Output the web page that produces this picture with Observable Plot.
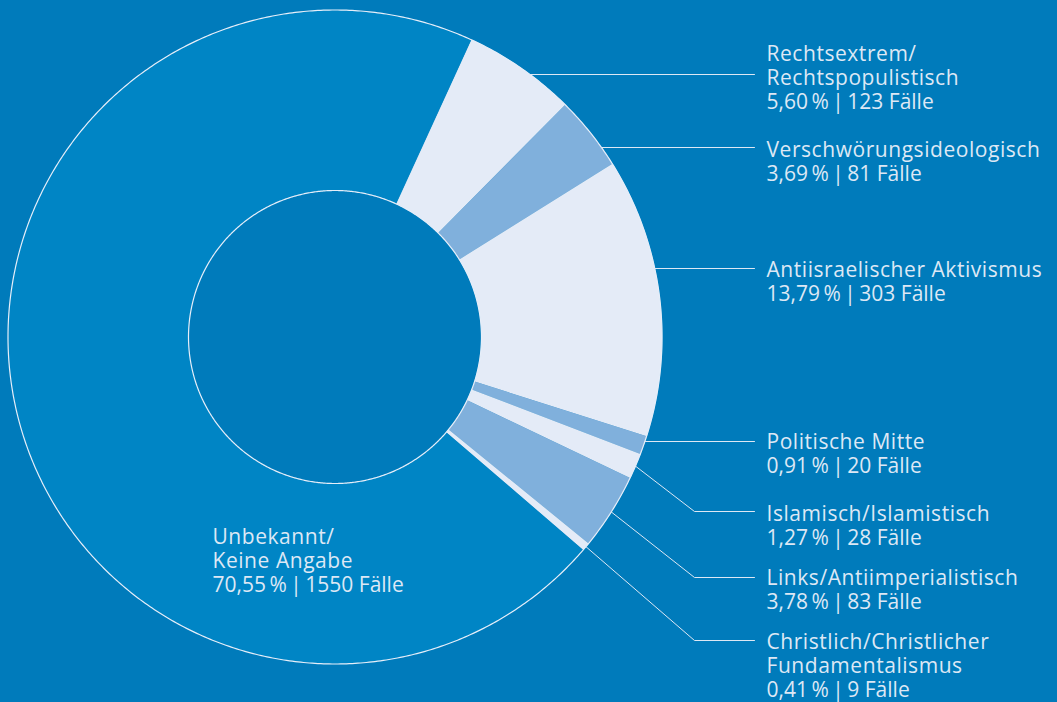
<!DOCTYPE html>
<html><head><meta charset="utf-8">
<script src="https://cdn.jsdelivr.net/npm/d3@7"></script>
<script src="https://cdn.jsdelivr.net/npm/@observablehq/plot@0.6"></script>
<style>
html,body{margin:0;padding:0;background:#007bbb;overflow:hidden;}
#chart{width:1057px;height:702px;}
</style></head><body><div id="chart"></div>
<script>
// ---- data ----
const categories = ["Rechtsextrem/\nRechtspopulistisch", "Verschwörungsideologisch", "Antiisraelischer Aktivismus", "Politische Mitte", "Islamisch/Islamistisch", "Links/Antiimperialistisch", "Christlich/Christlicher\nFundamentalismus", "Unbekannt/\nKeine Angabe"];
const cases = [123, 81, 303, 20, 28, 83, 9, 1550];
const percents = ["5,60", "3,69", "13,79", "0,91", "1,27", "3,78", "0,41", "70,55"];
const shades = ["light", "medium", "light", "medium", "light", "medium", "light", "base"];

// ---- layout / style ----
const palette = {light: "#e4ebf7", medium: "#80b0dc", base: "#0085c5"};
const bg = "#007bbb", ink = "#dde8f5";
const cx = 334.5, cy = 336.5, R = 327, r0 = 146.5, startDeg = 24.6;
const labelX = [766, 766, 766, 766, 766, 766, 766, 212];
const labelBase = [60, 156, 276, 448, 520, 584, 648, 543];   // baseline of first text line
const leaderY = [74, 147, 268, 441, 511, 577, 640, null];
const leaderBend = [false, false, false, false, true, true, true, false];
const elbowX = 694, leaderEndX = 754, lineStep = 24, fontSize = 21;

// ---- geometry from data ----
const arcs = d3.pie().sort(null).value(d => d)
  .startAngle(startDeg * Math.PI / 180).endAngle(startDeg * Math.PI / 180 + 2 * Math.PI)(cases);
const pt = (a, r) => [cx + r * Math.sin(a), cy - r * Math.cos(a)];

const slicePts = [];
arcs.forEach((a, i) => {
  const n = Math.max(4, Math.ceil((a.endAngle - a.startAngle) * 120));
  for (let k = 0; k <= n; k++) {
    const t = a.startAngle + (a.endAngle - a.startAngle) * k / n;
    const [x, y] = pt(t, R); slicePts.push({i, x, y, fill: palette[shades[i]]});
  }
  for (let k = n; k >= 0; k--) {
    const t = a.startAngle + (a.endAngle - a.startAngle) * k / n;
    const [x, y] = pt(t, r0); slicePts.push({i, x, y, fill: palette[shades[i]]});
  }
});
const ringPts = [];
for (const [ring, r] of [["outer", R], ["inner", r0]]) {
  for (let k = 0; k <= 720; k++) {
    const [x, y] = pt(k / 720 * 2 * Math.PI, r); ringPts.push({ring, x, y});
  }
}
const leaderPts = [];
arcs.forEach((a, i) => {
  if (leaderY[i] == null) return;
  const y0 = leaderY[i];
  if (leaderBend[i]) {
    const [sx, sy] = pt((a.startAngle + a.endAngle) / 2, R);
    leaderPts.push({i, x: sx, y: sy}, {i, x: elbowX, y: y0}, {i, x: leaderEndX, y: y0});
  } else {
    const sx = cx + Math.sqrt(R * R - (y0 - cy) ** 2);
    leaderPts.push({i, x: sx, y: y0}, {i, x: leaderEndX, y: y0});
  }
});
const nameRows = [], statRows = [];
categories.forEach((c, i) => {
  const lines = c.split("\n");
  lines.forEach((t, k) => nameRows.push({x: labelX[i], y: labelBase[i] + k * lineStep, t}));
  statRows.push({x: labelX[i], y: labelBase[i] + lines.length * lineStep,
    t: `${percents[i]}\u2009%\u2009|\u2009${cases[i]} Fälle`});
});

const chart = Plot.plot({
  width: 1057, height: 702, margin: 0,
  x: {domain: [0, 1057], range: [0, 1057], axis: null},
  y: {domain: [0, 702], range: [0, 702], axis: null},
  color: {type: "identity"},
  style: {background: bg, fontFamily: "'Open Sans', sans-serif", overflow: "visible"},
  marks: [
    Plot.line(slicePts, {x: "x", y: "y", z: "i", fill: "fill", stroke: "fill", strokeWidth: 0.4}),
    Plot.line(ringPts, {x: "x", y: "y", z: "ring", stroke: "#e6eef9", strokeWidth: 1.2}),
    Plot.line(leaderPts, {x: "x", y: "y", z: "i", stroke: ink, strokeWidth: 1}),
    Plot.text(nameRows, {x: "x", y: "y", text: "t", textAnchor: "start", lineAnchor: "bottom", fill: ink, fontSize,
      render: (i, s, v, d, c, next) => { const g = next(i, s, v, d, c); g.setAttribute("letter-spacing", "0.55px"); return g; }}),
    Plot.text(statRows, {x: "x", y: "y", text: "t", textAnchor: "start", lineAnchor: "bottom", fill: ink, fontSize})
  ]
});
document.getElementById("chart").appendChild(chart);
</script>
</body></html>
